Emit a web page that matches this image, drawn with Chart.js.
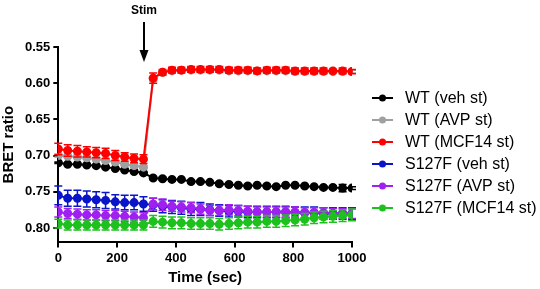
<!DOCTYPE html>
<html>
<head>
<meta charset="utf-8">
<script src="https://cdn.jsdelivr.net/npm/chart.js@4"></script>
<style>
  body { margin: 0; background: #fff; }
  #wrap { width: 540px; height: 289px; }
</style>
</head>
<body>
<div id="wrap"><canvas id="bretChart" width="540" height="289"></canvas></div>
<script>
// time points (sec)
const times = [0, 32, 65, 97, 129, 161, 194, 226, 258, 290, 323, 355, 387, 419, 452, 484,
  516, 548, 581, 613, 645, 677, 710, 742, 774, 806, 839, 871, 903, 935, 968, 1000];
const stimTime = 292;

const seriesNames = ['WT (veh st)', 'WT (AVP st)', 'WT (MCF14 st)', 'S127F (veh st)', 'S127F (AVP st)', 'S127F (MCF14 st)'];
const seriesColors = ['#000000', '#a0a0a0', '#ff0000', '#0a14c8', '#a020f0', '#1ec01e'];

const wtVeh = [0.710, 0.712, 0.712, 0.713, 0.714, 0.716, 0.718, 0.720, 0.722, 0.724, 0.731, 0.732, 0.733, 0.733, 0.736, 0.736,
  0.737, 0.739, 0.740, 0.741, 0.742, 0.741, 0.742, 0.743, 0.741, 0.741, 0.742, 0.743, 0.744, 0.744, 0.745, 0.745];
const wtVehErr = [0.001, 0.001, 0.001, 0.001, 0.001, 0.001, 0.001, 0.001, 0.001, 0.001, 0.002, 0.002, 0.002, 0.001, 0.002, 0.002,
  0.001, 0.002, 0.002, 0.001, 0.002, 0.001, 0.002, 0.002, 0.001, 0.002, 0.002, 0.001, 0.002, 0.002, 0.005, 0.002];

const wtAvp = [0.700, 0.701, 0.702, 0.703, 0.705, 0.707, 0.709, 0.712, 0.714, 0.716, 0.594, 0.585, 0.583, 0.582, 0.582, 0.582,
  0.582, 0.582, 0.583, 0.583, 0.583, 0.583, 0.583, 0.583, 0.583, 0.584, 0.584, 0.584, 0.584, 0.584, 0.584, 0.584];
const wtAvpErr = [0.002, 0.002, 0.002, 0.002, 0.002, 0.002, 0.002, 0.002, 0.002, 0.002, 0.003, 0.002, 0.002, 0.002, 0.002, 0.002,
  0.002, 0.002, 0.002, 0.002, 0.002, 0.002, 0.002, 0.002, 0.002, 0.002, 0.002, 0.002, 0.002, 0.002, 0.002, 0.002];

const wtMcf = [0.691, 0.693, 0.694, 0.695, 0.696, 0.697, 0.700, 0.702, 0.704, 0.705, 0.593, 0.585, 0.582, 0.582, 0.581, 0.581,
  0.581, 0.581, 0.582, 0.582, 0.582, 0.583, 0.582, 0.582, 0.582, 0.583, 0.583, 0.583, 0.583, 0.583, 0.583, 0.584];
const wtMcfErr = [0.008, 0.008, 0.008, 0.007, 0.007, 0.007, 0.007, 0.006, 0.006, 0.006, 0.007, 0.004, 0.004, 0.004, 0.004, 0.004,
  0.004, 0.004, 0.004, 0.004, 0.004, 0.004, 0.004, 0.004, 0.004, 0.004, 0.004, 0.004, 0.004, 0.002, 0.004, 0.003];

const mutVeh = [0.755, 0.759, 0.759, 0.760, 0.761, 0.762, 0.764, 0.765, 0.765, 0.767, 0.768, 0.770, 0.771, 0.772, 0.774, 0.774,
  0.775, 0.776, 0.777, 0.777, 0.778, 0.778, 0.778, 0.778, 0.778, 0.779, 0.779, 0.779, 0.780, 0.780, 0.780, 0.780];
const mutVehErr = [0.013, 0.011, 0.011, 0.011, 0.011, 0.011, 0.010, 0.010, 0.010, 0.010, 0.009, 0.009, 0.009, 0.009, 0.009, 0.009,
  0.008, 0.008, 0.008, 0.008, 0.008, 0.008, 0.008, 0.008, 0.008, 0.008, 0.008, 0.008, 0.008, 0.008, 0.008, 0.008];

const mutAvp = [0.778, 0.780, 0.781, 0.782, 0.782, 0.783, 0.783, 0.784, 0.785, 0.786, 0.767, 0.768, 0.770, 0.771, 0.772, 0.774,
  0.776, 0.776, 0.775, 0.776, 0.777, 0.778, 0.778, 0.778, 0.778, 0.778, 0.779, 0.779, 0.779, 0.780, 0.780, 0.780];
const mutAvpErr = [0.007, 0.007, 0.007, 0.007, 0.007, 0.007, 0.007, 0.007, 0.007, 0.007, 0.008, 0.008, 0.007, 0.007, 0.007, 0.007,
  0.007, 0.007, 0.007, 0.007, 0.007, 0.007, 0.007, 0.007, 0.007, 0.007, 0.007, 0.007, 0.007, 0.007, 0.007, 0.007];

const mutMcf = [0.794, 0.796, 0.796, 0.796, 0.796, 0.796, 0.796, 0.796, 0.796, 0.796, 0.791, 0.792, 0.793, 0.793, 0.794, 0.794,
  0.794, 0.795, 0.794, 0.793, 0.792, 0.792, 0.791, 0.791, 0.790, 0.789, 0.788, 0.786, 0.785, 0.784, 0.783, 0.782];
const mutMcfErr = [0.006, 0.007, 0.007, 0.007, 0.007, 0.007, 0.007, 0.007, 0.007, 0.007, 0.008, 0.008, 0.008, 0.008, 0.008, 0.008,
  0.008, 0.008, 0.008, 0.008, 0.008, 0.008, 0.008, 0.008, 0.008, 0.008, 0.008, 0.008, 0.008, 0.008, 0.008, 0.008];

const xTicks = [0, 200, 400, 600, 800, 1000];
const yTicks = [0.55, 0.60, 0.65, 0.70, 0.75, 0.80];

const allValues = [wtVeh, wtAvp, wtMcf, mutVeh, mutAvp, mutMcf];
const allErrors = [wtVehErr, wtAvpErr, wtMcfErr, mutVehErr, mutAvpErr, mutMcfErr];

const fontFamily = '"Liberation Sans", Arial, sans-serif';

// SEM bars, drawn just before each dataset's line and points
const errorBars = {
  id: 'errorBars',
  beforeDatasetDraw(chart, args) {
    const ds = chart.data.datasets[args.index];
    const yScale = chart.scales.y;
    const ctx = chart.ctx;
    ctx.save();
    ctx.strokeStyle = ds.borderColor;
    ctx.lineWidth = 1.5;
    args.meta.data.forEach((pt, i) => {
      const v = ds.data[i].y, e = ds.errors[i];
      const y1 = yScale.getPixelForValue(v - e), y2 = yScale.getPixelForValue(v + e);
      ctx.beginPath();
      ctx.moveTo(pt.x, y1); ctx.lineTo(pt.x, y2);
      ctx.moveTo(pt.x - 4, y1); ctx.lineTo(pt.x + 4, y1);
      ctx.moveTo(pt.x - 4, y2); ctx.lineTo(pt.x + 4, y2);
      ctx.stroke();
    });
    ctx.restore();
  }
};

// "Stim" label with arrow
const stimArrow = {
  id: 'stimArrow',
  afterDraw(chart) {
    const ctx = chart.ctx;
    const x = Math.round(chart.scales.x.getPixelForValue(stimTime));
    ctx.save();
    ctx.fillStyle = '#000';
    ctx.strokeStyle = '#000';
    ctx.font = 'bold 12px ' + fontFamily;
    ctx.textAlign = 'center';
    ctx.textBaseline = 'middle';
    ctx.fillText('Stim', x, 11);
    ctx.lineWidth = 2;
    ctx.beginPath(); ctx.moveTo(x, 22); ctx.lineTo(x, 54); ctx.stroke();
    ctx.beginPath(); ctx.moveTo(x - 4.5, 50); ctx.lineTo(x + 4.5, 50); ctx.lineTo(x, 62); ctx.closePath(); ctx.fill();
    ctx.restore();
  }
};

// legend to the right of the plot: line + dot, then the label
const sideLegend = {
  id: 'sideLegend',
  afterDraw(chart) {
    const ctx = chart.ctx;
    const x0 = 372, y0 = 98, rowGap = 22;
    ctx.save();
    ctx.font = '16px ' + fontFamily;
    ctx.textBaseline = 'middle';
    ctx.textAlign = 'left';
    chart.data.datasets.forEach((ds, i) => {
      const y = y0 + i * rowGap;
      ctx.strokeStyle = ds.borderColor;
      ctx.fillStyle = ds.borderColor;
      ctx.lineWidth = 2;
      ctx.beginPath(); ctx.moveTo(x0, y); ctx.lineTo(x0 + 21, y); ctx.stroke();
      ctx.beginPath(); ctx.arc(x0 + 10.5, y, 3.5, 0, Math.PI * 2); ctx.fill();
      ctx.fillStyle = '#000';
      ctx.fillText(ds.label, x0 + 33, y + 1);
    });
    ctx.restore();
  }
};

const datasets = seriesNames.map((name, i) => ({
  label: name,
  data: times.map((t, j) => ({ x: t, y: allValues[i][j] })),
  errors: allErrors[i],
  borderColor: seriesColors[i],
  backgroundColor: seriesColors[i],
  borderWidth: 2,
  pointRadius: 3.5,
  pointHoverRadius: 3.5,
  pointStyle: 'circle',
  order: 6 - i,
  tension: 0
}));

const axisFont = { family: fontFamily, size: 13, weight: 'bold' };
const titleFont = { family: fontFamily, size: 15, weight: 'bold' };

new Chart(document.getElementById('bretChart'), {
  type: 'line',
  data: { datasets },
  plugins: [errorBars, stimArrow, sideLegend],
  options: {
    responsive: false,
    animation: false,
    layout: { padding: { top: 47, right: 188, bottom: 0, left: 0 } },
    plugins: {
      tooltip: { enabled: false },
      legend: { display: false }
    },
    scales: {
      x: {
        type: 'linear',
        min: 0,
        max: 1000,
        afterBuildTicks: s => { s.ticks = xTicks.map(v => ({ value: v })); },
        border: { color: '#000', width: 2 },
        grid: { drawOnChartArea: false, color: '#000', lineWidth: 2, tickLength: 5 },
        ticks: { color: '#000', font: axisFont, padding: 3, maxRotation: 0, callback: v => String(v) },
        title: { display: true, text: 'Time (sec)', color: '#000', font: titleFont, padding: { top: 0, bottom: 2 } }
      },
      y: {
        min: 0.55,
        max: 0.82,
        reverse: true,
        afterBuildTicks: s => { s.ticks = yTicks.map(v => ({ value: v })); },
        border: { color: '#000', width: 2 },
        grid: { drawOnChartArea: false, color: '#000', lineWidth: 2, tickLength: 5 },
        ticks: { color: '#000', font: axisFont, padding: 3, callback: v => v.toFixed(2) },
        title: { display: true, text: 'BRET ratio', color: '#000', font: titleFont, padding: { top: 0, bottom: 4 } }
      }
    }
  }
});
</script>
</body>
</html>
